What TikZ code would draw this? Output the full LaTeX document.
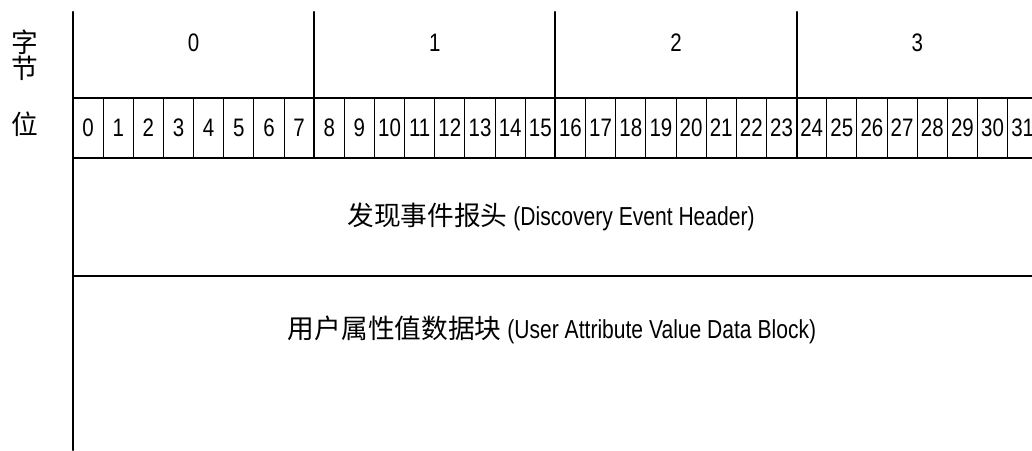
\documentclass[tikz,border=0pt]{standalone}
\usepackage{fontspec}
\setmainfont{Liberation Sans}[FakeStretch=0.81]
\newfontfamily\cjk{Noto Sans CJK SC}
\usetikzlibrary{arrows,calc}
\usepackage{tkz-euclide}

\begin{document}
\begin{tikzpicture}[txt/.style={inner sep=0pt,font=\fontsize{18}{16.5}\selectfont},
  cjktxt/.style={inner sep=0pt,font=\fontsize{19}{17}\selectfont\cjk}]
\useasboundingbox (0,0) rectangle (25.8,11.25);
\tkzSetUpLine[line width=1.5pt,color=black]

\tkzDefPoints{1.825/10.95/T,1.825/0/B,1.825/8.8/L1,25.8/8.8/R1,1.825/7.3/L2,25.8/7.3/R2,1.825/4.35/L3,25.8/4.35/R3}

\tkzDrawSegments(T,B L1,R1 L2,R2 L3,R3)

% bit cells
\foreach \i in {1,...,31}{
  \pgfmathsetmacro\xb{1.825+0.75375*\i}
  \tkzDefPoint(\xb,8.8){u}
  \tkzDefPoint(\xb,7.3){d}
  \tkzDrawSegment[line width=0.7pt](u,d)
}

% byte cells
\foreach \k in {1,2,3}{
  \pgfmathsetmacro\xb{1.825+6.03*\k}
  \tkzDefPoint(\xb,10.95){t}
  \tkzDefPoint(\xb,7.3){d}
  \tkzDrawSegment(t,d)
}

\foreach \k in {0,...,3}{
  \pgfmathsetmacro\xb{1.825+6.03*(\k+0.5)}
  \node[txt] (byte\k) at (\xb,10.175) {\k};
}
\foreach \i in {0,...,31}{
  \pgfmathsetmacro\xb{1.825+0.75375*(\i+0.5)}
  \node[txt] (bit\i) at (\xb,8.05) {\i};
}

\node[cjktxt,align=center] (zijie) at (0.625,9.86) {字\\节};
\node[cjktxt] (wei) at (0.625,8.14) {位};

\node[txt,font=\fontsize{18.5}{20}\selectfont] (hdr) at (13.775,5.825) {{\cjk\fontsize{19}{20}\selectfont 发现事件报头} (Discovery Event Header)};
\node[txt,font=\fontsize{18.5}{20}\selectfont] (data) at (13.8,3.0) {{\cjk\fontsize{19}{20}\selectfont 用户属性值数据块} (User Attribute Value Data Block)};

\end{tikzpicture}
\end{document}
